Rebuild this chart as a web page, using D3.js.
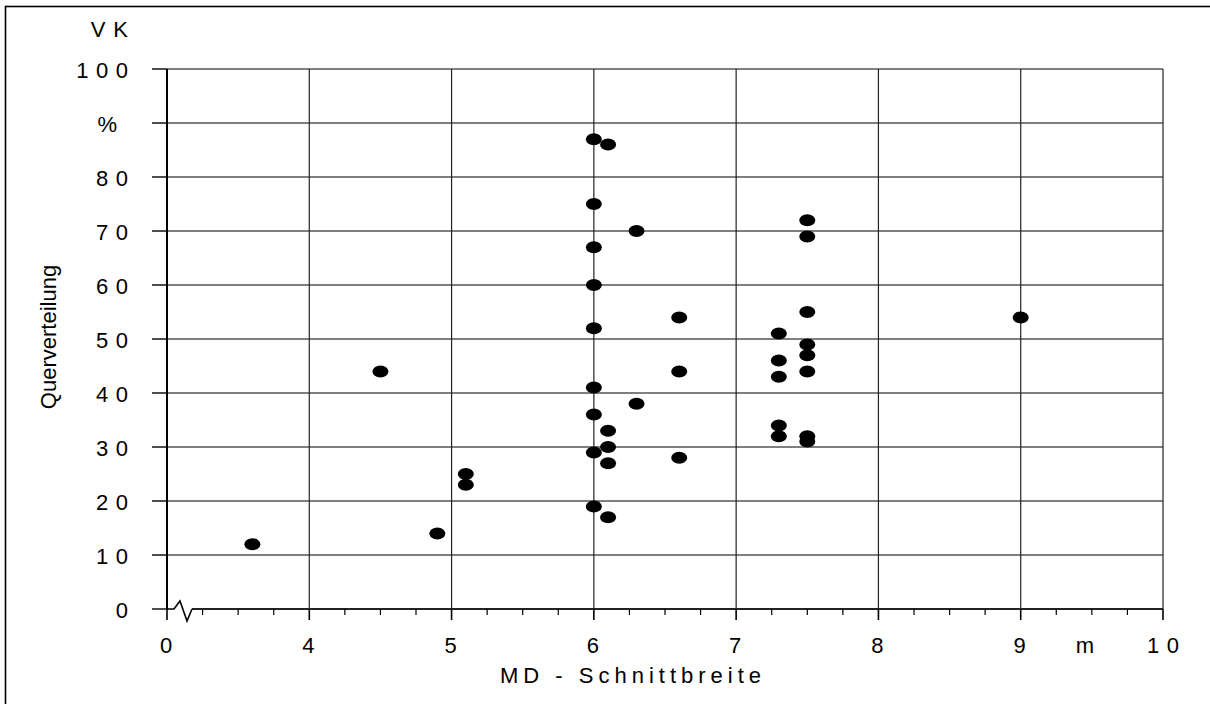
<html>
  <head>
    <meta charset="utf-8">
    <title>Querverteilung - MD Schnittbreite</title>
    <style>
      body { margin: 0; background: #fff; }
      text { font-family: "Liberation Sans", Arial, sans-serif; fill: #000; }
    </style>
  </head>
  <body>
    <script src="https://cdn.jsdelivr.net/npm/d3@7/dist/d3.min.js"></script>
    <script>

    var width = 1210,
        height = 704;

    // data (x = Schnittbreite in m, y = VK in %)
    var schnittbreite = [3.6, 4.5, 4.9, 5.1, 5.1,
                         6, 6, 6, 6, 6, 6, 6, 6, 6,
                         6.1, 6.1, 6.1, 6.1, 6.1,
                         6.3, 6.3,
                         6.6, 6.6, 6.6,
                         7.3, 7.3, 7.3, 7.3, 7.3,
                         7.5, 7.5, 7.5, 7.5, 7.5, 7.5, 7.5, 7.5,
                         9];
    var querverteilung = [12, 44, 14, 25, 23,
                          87, 75, 67, 60, 52, 41, 36, 29, 19,
                          86, 33, 30, 27, 17,
                          70, 38,
                          54, 44, 28,
                          51, 46, 43, 34, 32,
                          72, 69, 55, 49, 47, 44, 32, 31,
                          54];

    var xTickValues = [3, 4, 5, 6, 7, 8, 9, 9.5, 10];
    var xTickLabels = ["0", "4", "5", "6", "7", "8", "9", "m", "10"];
    var xGridValues = [4, 5, 6, 7, 8, 9, 10];
    var yTickValues = [0, 10, 20, 30, 40, 50, 60, 70, 80, 90, 100];
    var yTickLabels = ["0", "10", "20", "30", "40", "50", "60", "70", "80", "%", "100"];

    var plotLeft = 167, plotRight = 1163, plotTop = 69, plotBottom = 609;
    var fs = 22, ls = 7.5;   // label font size and the wide letter spacing of the original

    var x = d3.scaleLinear().domain([3, 10]).range([plotLeft, plotRight]);
    var y = d3.scaleLinear().domain([0, 100]).range([plotBottom, plotTop]);

    var svg = d3.select("body")
                .append("svg")
                .attr("width", width)
                .attr("height", height);

    // outer frame (runs off the page on the right and bottom)
    svg.append("rect")
       .attr("x", 5.5).attr("y", 6.5)
       .attr("width", 1300).attr("height", 800)
       .attr("fill", "none").attr("stroke", "#000").attr("stroke-width", 1.6);

    // horizontal grid
    svg.append("g").selectAll("line")
       .data(yTickValues.filter(function(d){ return d > 0; }))
       .enter().append("line")
       .attr("x1", plotLeft).attr("x2", plotRight)
       .attr("y1", function(d){ return y(d); })
       .attr("y2", function(d){ return y(d); })
       .attr("stroke", "#555").attr("stroke-width", 1.4);

    // vertical grid
    svg.append("g").selectAll("line")
       .data(xGridValues)
       .enter().append("line")
       .attr("x1", function(d){ return x(d); })
       .attr("x2", function(d){ return x(d); })
       .attr("y1", plotTop).attr("y2", plotBottom)
       .attr("stroke", "#222").attr("stroke-width", 1.2);

    // y axis line + ticks
    svg.append("line")
       .attr("x1", plotLeft).attr("x2", plotLeft)
       .attr("y1", plotTop).attr("y2", plotBottom)
       .attr("stroke", "#000").attr("stroke-width", 2);

    svg.append("g").selectAll("line")
       .data(yTickValues)
       .enter().append("line")
       .attr("x1", plotLeft - 15).attr("x2", plotLeft)
       .attr("y1", function(d){ return y(d); })
       .attr("y2", function(d){ return y(d); })
       .attr("stroke", "#000").attr("stroke-width", 1.4);

    svg.append("g").selectAll("text")
       .data(yTickValues)
       .enter().append("text")
       .attr("x", plotLeft - 39 + ls)
       .attr("dx", function(d, i){ return yTickLabels[i] === "%" ? -11 : 0; })
       .attr("y", function(d){ return y(d) + 8.5; })
       .attr("text-anchor", "end")
       .attr("font-size", fs + "px")
       .attr("letter-spacing", ls + "px")
       .text(function(d, i){ return yTickLabels[i]; });

    svg.append("text")
       .attr("x", plotLeft - 39 + 8)
       .attr("y", 37)
       .attr("text-anchor", "end")
       .attr("font-size", fs + "px")
       .attr("letter-spacing", "8px")
       .text("VK");

    // x axis line with break
    var brk = [[plotLeft, plotBottom], [plotLeft + 7, plotBottom], [plotLeft + 13, plotBottom - 8],
               [plotLeft + 20, plotBottom + 12], [plotLeft + 25, plotBottom]];
    svg.append("path")
       .attr("d", d3.line()(brk))
       .attr("fill", "none").attr("stroke", "#000").attr("stroke-width", 1.6);

    svg.append("line")
       .attr("x1", plotLeft + 25).attr("x2", plotRight)
       .attr("y1", plotBottom).attr("y2", plotBottom)
       .attr("stroke", "#222").attr("stroke-width", 2.2);

    var minorTicks = d3.range(3.25, 10, 0.25).filter(function(d){ return d % 1 !== 0; });
    svg.append("g").selectAll("line")
       .data(minorTicks)
       .enter().append("line")
       .attr("x1", function(d){ return x(d); })
       .attr("x2", function(d){ return x(d); })
       .attr("y1", plotBottom).attr("y2", plotBottom + 6)
       .attr("stroke", "#000").attr("stroke-width", 1.2);

    svg.append("g").selectAll("line")
       .data([3].concat(xGridValues))
       .enter().append("line")
       .attr("x1", function(d){ return x(d); })
       .attr("x2", function(d){ return x(d); })
       .attr("y1", plotBottom).attr("y2", plotBottom + 11)
       .attr("stroke", "#000").attr("stroke-width", 1.6);

    svg.append("g").selectAll("text")
       .data(xTickValues)
       .enter().append("text")
       .attr("x", function(d){ return x(d); })
       .attr("dx", function(d, i){
           if (xTickLabels[i] === "m") return -7;
           return xTickLabels[i].length > 1 ? ls / 2 : -1;
       })
       .attr("y", plotBottom + 44)
       .attr("text-anchor", "middle")
       .attr("font-size", fs + "px")
       .attr("letter-spacing", function(d, i){ return xTickLabels[i].length > 1 ? ls + "px" : "0px"; })
       .text(function(d, i){ return xTickLabels[i]; });

    // axis titles
    svg.append("text")
       .attr("x", 500)
       .attr("y", plotBottom + 74)
       .attr("font-size", fs + "px")
       .attr("letter-spacing", "5px")
       .text("MD - Schnittbreite");

    svg.append("text")
       .attr("transform", "translate(56,337) rotate(-90)")
       .attr("text-anchor", "middle")
       .attr("font-size", fs + "px")
       .text("Querverteilung");

    // points
    svg.append("g").selectAll("ellipse")
       .data(schnittbreite)
       .enter().append("ellipse")
       .attr("cx", function(d){ return x(d); })
       .attr("cy", function(d, i){ return y(querverteilung[i]); })
       .attr("rx", 8).attr("ry", 6)
       .attr("fill", "#000");

    </script>
  </body>
</html>
